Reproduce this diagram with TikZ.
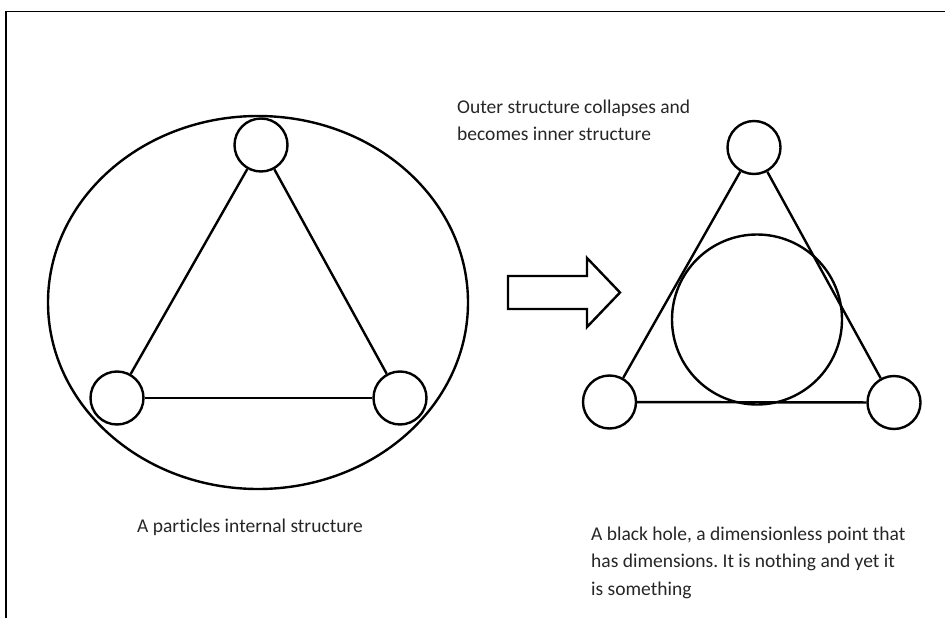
\documentclass[tikz,border=0pt]{standalone}
\usepackage{fontspec}
\setmainfont[Ligatures={NoCommon}]{Carlito}
\frenchspacing
\begin{document}
\begin{tikzpicture}[x=1pt,y=-1pt,
  ln/.style={line width=2.4pt},
  ball/.style={draw,circle,ln,minimum size=53pt,inner sep=0pt},
  lbl/.style={anchor=base west,inner sep=0pt,font=\fontsize{19.5}{22}\selectfont,text=black!85}]
\useasboundingbox (0,0) rectangle (945,618);
% frame
\draw[line width=1.8pt] (6,618) -- (6,11.5) -- (945,11.5);
% left diagram
\draw[ln] (258,302.5) ellipse [x radius=210, y radius=186.5];
\node[ball] (lt) at (261,145) {};
\node[ball] (lbl1) at (117,398) {};
\node[ball] (lbr) at (400,398) {};
\draw[ln] (lt) -- (lbl1);
\draw[ln] (lt) -- (lbr);
\draw[ln] (lbl1) -- (lbr);
% arrow
\draw[ln,line join=miter] (508,276) -- (587,276) -- (587,258) -- (620,292.5) -- (587,327) -- (587,309) -- (508,309) -- cycle;
% right diagram
\node[ball] (rt) at (754,147.5) {};
\node[ball] (rbl) at (609.5,402) {};
\node[ball] (rbr) at (894,402.5) {};
\draw[ln] (rt) -- (rbl);
\draw[ln] (rt) -- (rbr);
\draw[ln] (rbl) -- (rbr);
\node[draw,circle,ln,minimum size=170pt,inner sep=0pt] (core) at (757,319.5) {};
% texts
\node[lbl] (t1a) at (457,113) {Outer structure collapses and};
\node[lbl] (t1b) at (457,140) {becomes inner structure};
\node[lbl] (t2) at (137,532) {A particles internal structure};
\node[lbl] (t3a) at (591,540) {A black hole, a dimensionless point that};
\node[lbl] (t3b) at (591,567.5) {has dimensions. It is nothing and yet it};
\node[lbl] (t3c) at (591,595) {is something};
\end{tikzpicture}
\end{document}
